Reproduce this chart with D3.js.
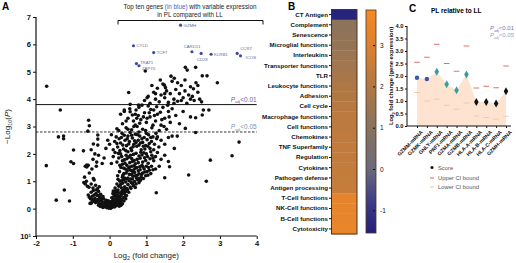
<!DOCTYPE html>
<html><head><meta charset="utf-8">
<script src="https://cdn.jsdelivr.net/npm/d3@7"></script>
<style>
body{margin:0;background:#fff}
svg text{font-family:"Liberation Sans",Arial,Helvetica,sans-serif}
</style>
</head><body>
<svg id="chart" width="516" height="263"></svg>
<script>
// ---------------- DATA ----------------
// Panel A: volcano plot, [log2 fold change, -log10 P]
const volcanoPoints = [
[-0.02,0.02],[0.01,0.05],[0.03,0.01],[-0.05,0.08],[0.06,0.04],[-0.08,0.12],[0.09,0.1],[-0.11,0.06],[0.12,0.15],[-0.14,0.18],
[0.15,0.08],[-0.03,0.14],[0.04,0.19],[-0.17,0.11],[0.18,0.21],[-0.2,0.24],[0.21,0.13],[-0.06,0.22],[0.07,0.27],[-0.23,0.16],
[0.24,0.3],[-0.26,0.29],[0.27,0.19],[-0.09,0.3],[0.1,0.33],[-0.29,0.2],[0.3,0.25],[-0.32,0.33],[0.02,0.1],[-0.01,0.17],
[0.13,0.06],[-0.12,0.25],[0.16,0.28],[-0.18,0.04],[0.19,0.34],[-0.22,0.31],[0.05,0.23],[-0.04,0.29],[0.08,0.16],[-0.15,0.14],
[0.22,0.2],[-0.35,0.27],[0.33,0.32],[-0.38,0.22],[-0.41,0.3],[-0.45,0.26],[-0.5,0.2],[-0.48,0.33],[0.26,0.09],[0.11,0.22],
[-0.07,0.03],[0.0,0.26],[-0.25,0.08],[0.14,0.31],[-0.1,0.2],[0.35,0.18],[0.28,0.35],[-0.3,0.12],[0.17,0.12],[0.0,0.12],
[-0.16,0.36],[0.31,0.12],[0.23,0.38],[-0.27,0.5],[0.17,0.46],[0.39,0.28],[-0.42,0.5],[0.44,0.36],
[-0.58,0.5],[-0.55,0.42],[-0.5,0.6],[-0.47,0.45],[-0.44,0.66],[-0.4,0.38],[-0.37,0.55],[-0.34,0.48],[-0.3,0.63],[-0.27,0.41],
[-0.24,0.52],[-0.21,0.37],[-0.18,0.44],[-0.36,0.68],[-0.52,0.36],[0.06,0.4],[0.09,0.55],[0.12,0.45],[0.15,0.62],[0.18,0.38],
[0.2,0.5],[0.23,0.68],[0.26,0.42],[0.29,0.58],[0.31,0.47],[0.34,0.65],[0.37,0.4],[0.4,0.55],[0.43,0.62],[0.46,0.48],
[0.49,0.69],[0.14,0.52],[0.22,0.59],[0.28,0.37],[0.33,0.53],[0.38,0.67],[0.1,0.64],[0.25,0.47],[0.42,0.44],[0.19,0.66],
[0.36,0.58],[0.52,0.6],
[-0.7,0.95],[-0.66,0.9],[-0.63,1.0],[-0.6,0.82],[-0.56,0.78],[-0.5,0.9],[-0.45,0.75],[-0.42,1.05],[-0.38,0.85],[-0.33,0.72],
[-0.28,0.8],[0.15,0.75],[0.2,0.9],[0.25,0.82],[0.28,1.0],[0.32,0.76],[0.35,0.93],[0.38,1.05],[0.41,0.8],[0.44,0.97],
[0.47,0.73],[0.5,0.88],[0.53,1.02],[0.56,0.79],[0.59,0.95],[0.62,1.08],[0.65,0.84],[0.68,0.99],[0.72,0.9],[0.76,1.06],
[0.8,0.95],[0.3,0.88],[0.4,0.71],[0.46,1.08],[0.58,0.74],[0.7,0.77],[0.84,1.04],[0.23,1.07],[0.62,0.92],
[-0.68,1.15],[-0.55,1.3],[-0.48,1.45],[-0.36,1.55],[-0.62,1.52],[-0.58,1.58],
[0.22,1.2],[0.27,1.35],[0.31,1.5],[0.35,1.15],[0.39,1.28],[0.43,1.45],[0.47,1.58],[0.5,1.12],[0.54,1.25],[0.57,1.4],
[0.61,1.55],[0.64,1.18],[0.68,1.32],[0.71,1.48],[0.75,1.22],[0.78,1.38],[0.82,1.53],[0.86,1.15],[0.9,1.3],[0.94,1.45],
[0.98,1.2],[1.02,1.35],[1.06,1.5],[1.12,1.28],[1.18,1.42],[0.45,1.3],[0.66,1.42],[0.73,1.12],[0.88,1.58],[0.55,1.52],
[0.38,1.48],[0.28,1.58],[0.92,1.1],[1.0,1.55],[0.6,1.25],[0.8,1.27],[1.25,1.45],[1.35,1.55],
[0.32,1.02],[0.36,1.22],[0.41,1.12],[0.48,1.38],[0.52,1.48],[0.58,1.08],[0.63,1.36],[0.67,1.56],[0.7,1.2],[0.74,1.5],
[0.79,1.1],[0.83,1.42],[0.87,1.25],[0.91,1.52],[0.96,1.34],[1.04,1.22],[1.08,1.4],[1.14,1.55],
[-0.45,1.8],[-0.4,2.0],[-0.35,1.7],[-0.3,1.95],[-0.2,1.65],[-0.15,1.85],
[0.05,1.65],[0.1,1.9],[0.15,2.05],[0.2,1.7],[0.25,1.85],[0.3,2.0],[0.35,1.62],[0.4,1.78],[0.45,1.95],[0.5,2.08],
[0.55,1.68],[0.6,1.83],[0.65,1.98],[0.7,1.64],[0.75,1.8],[0.8,1.92],[0.85,2.06],[0.9,1.7],[0.95,1.86],[1.0,2.0],
[1.05,1.66],[1.1,1.82],[1.15,1.95],[1.2,1.75],[1.25,1.9],[1.3,2.05],[1.4,1.8],[1.5,1.95],[1.6,1.72],[0.42,1.66],
[0.62,1.72],[0.78,1.68],[0.98,1.76],[1.12,2.08],[0.33,1.9],[0.52,1.88],[0.72,2.02],[0.88,1.96],
[0.35,1.75],[0.47,1.82],[0.57,1.95],[0.67,1.76],[0.83,1.84],[0.93,2.04],[1.03,1.9],[1.18,1.85],
[-0.1,2.2],[-0.05,2.5],[0.0,2.35],[0.05,2.7],[0.1,2.15],[0.14,2.45],[0.18,2.62],[0.22,2.25],[0.26,2.55],[0.3,2.4],
[0.34,2.75],[0.38,2.18],[0.42,2.5],[0.46,2.3],[0.5,2.65],[0.54,2.45],[0.58,2.2],[0.62,2.58],[0.66,2.35],[0.7,2.72],
[0.74,2.28],[0.78,2.5],[0.82,2.65],[0.86,2.15],[0.9,2.42],[0.94,2.6],[0.98,2.3],[1.02,2.52],[1.06,2.7],[1.1,2.2],
[1.14,2.45],[1.18,2.62],[1.22,2.35],[1.28,2.55],[1.34,2.25],[1.4,2.5],[1.5,2.35],[1.6,2.6],[0.2,2.38],[0.4,2.68],
[0.6,2.12],[0.8,2.32],[1.0,2.75],[0.48,2.55],[0.68,2.48],[0.88,2.55],[1.08,2.38],[0.28,2.12],[0.56,2.78],[0.76,2.7],
[0.96,2.18],[1.26,2.75],
[0.24,2.02],[0.44,2.12],[0.64,2.26],[0.84,2.4],[1.04,2.28],[1.2,2.15],[0.36,2.32],[0.52,2.36],[0.72,2.42],[0.92,2.28],
[1.12,2.6],[0.32,2.6],[0.6,2.68],[0.8,2.8],[1.3,2.62],
[0.25,2.85],[0.35,3.1],[0.4,3.55],[0.45,2.95],[0.5,3.3],[0.55,3.65],[0.6,2.88],[0.65,3.2],[0.7,3.45],[0.75,3.0],
[0.8,3.7],[0.85,3.25],[0.9,2.9],[0.95,3.5],[1.0,3.15],[1.05,3.75],[1.1,3.35],[1.15,2.95],[1.2,3.6],[1.25,3.2],
[1.3,3.45],[1.35,2.85],[1.4,3.05],[1.45,3.7],[1.5,3.3],[1.55,2.9],[1.6,3.55],[1.65,3.15],[1.7,3.65],[1.8,3.4],
[1.9,3.1],[2.0,3.55],[0.72,3.6],[0.98,2.85],[1.18,3.05],[1.38,3.52],[0.88,3.78],[1.58,3.78],[1.28,3.72],[0.62,3.42],
[1.12,3.62],[1.48,3.0],[0.3,3.45],[0.2,2.92],
[0.5,2.9],[0.66,3.0],[0.82,3.12],[1.02,3.3],[1.22,3.4],[0.45,3.2],[0.92,3.35],[1.42,3.25],[1.08,3.5],[0.78,3.4],[1.62,3.35],
[0.95,3.95],[1.05,4.1],[1.1,3.85],[1.2,4.25],[1.25,4.0],[1.3,4.4],[1.35,3.9],[1.4,4.15],[1.45,4.55],[1.5,4.05],
[1.55,4.3],[1.6,3.88],[1.65,4.2],[1.7,4.65],[1.75,4.0],[1.8,4.35],[1.85,3.92],[1.9,4.2],[1.95,4.5],[2.0,4.05],
[2.05,4.3],[2.1,3.85],[2.15,4.15],[2.2,4.45],[2.25,4.1],[2.3,3.95],[2.35,4.6],[2.4,4.25],[2.45,4.0],[2.5,3.9],
[1.15,4.5],[1.38,4.7],[2.28,4.38],[1.52,4.42],[1.02,4.05],
[1.75,3.85],[1.95,3.95],[2.2,4.0],[1.5,4.2],[1.85,4.6],[2.05,4.7],[2.4,4.5],[1.25,4.2],
[-1.71,4.47],[-1.34,3.6],[-0.57,3.23],[-0.55,3.03],[-0.59,2.83],[-1.39,2.62],[-1.25,2.65],[-1.25,2.55],[-0.32,2.69],[-0.32,2.54],
[-0.32,2.32],[-0.44,2.36],[-0.5,2.15],[-0.98,2.14],[-0.71,2.11],[0.52,4.24],[0.56,3.81],[0.79,3.78],[0.4,3.6],[0.56,3.54],
[0.97,5.03],[2.06,5.16],[2.34,5.16],[2.11,5.06],[1.67,4.84],[1.76,4.76],[1.49,4.51],[2.65,4.85],[2.52,4.85],[2.93,4.6],
[2.34,3.32],[2.52,3.42],[2.7,3.6],[2.55,3.6],[2.2,3.35],[2.06,2.93],[1.7,2.65],[1.84,2.65],[2.34,2.78],[1.76,2.2],
[3.52,2.43],[3.33,1.93],[2.74,1.77],[2.15,1.23],[2.63,1.0],[1.27,0.58],[1.5,1.13],[1.63,1.53],[-1.72,1.57],[-1.45,0.31],
[-1.23,0.68],[-1.09,0.28],[-1.05,1.71],[-0.98,1.65],[-0.66,1.55],[-0.62,1.59],[-0.53,0.19],[-0.44,1.1],[0.7,3.05],[0.74,3.3]
];
const topGenes = ["GZMH","CYLD","TCF7","TRAT1","ZAP70","CARD11","CD28","KLRB1","CCR7","ICOS"];
const topGeneFC = [1.93,0.65,1.2,0.73,0.8,2.24,2.49,2.76,3.47,3.56];
const topGeneNegLogP = [6.7,5.95,5.7,5.3,5.22,5.73,5.67,5.64,5.67,5.58];
const volcanoXTicks = [-2,-1,0,1,2,3,4];
const volcanoYTicks = [-1,0,1,2,3,4,5,6,7];
const volcanoYTickLabels = ["10\u00B9","0","1","2","3","4","5","6","7"];
const thresholdP01 = 3.8;
const thresholdP05 = 2.8;

// Panel B: pathway scores heatmap
const pathways = ["CT Antigen","Complement","Senescence","Microglial functions","Interleukins",
  "Transporter functions","TLR","Leukocyte functions","Adhesion","Cell cycle","Macrophage functions",
  "Cell functions","Chemokines","TNF Superfamily","Regulation","Cytokines","Pathogen defense",
  "Antigen processing","T-Cell functions","NK-Cell functions","B-Cell functions","Cytotoxicity"];
const pathwayScores = [-1.4,1.1,1.2,1.35,1.5,1.65,1.8,1.95,2.05,2.15,2.25,2.3,2.35,2.4,2.4,2.45,2.45,2.5,3.3,3.35,3.4,3.45];
const colorbarTicks = [-1,0,1,2,3];
const colorbarDomain = [-1.55,3.85];

// Panel C: PL relative to LL
const genesC = ["GZMM-mRNA","GZMK-mRNA","GNLY-mRNA","PRF1-mRNA","GZMA-mRNA","GZMB-mRNA","HLA-A-mRNA","HLA-B-mRNA","HLA-C-mRNA","GZMH-mRNA"];
const scoreC = [1.93,1.88,2.17,1.67,1.43,2.06,0.96,0.96,0.9,1.39];
const upperC = [2.55,2.75,3.27,2.5,2.19,3.2,1.52,1.59,1.53,2.4];
const lowerC = [1.34,1.0,1.07,0.83,0.67,0.92,0.4,0.34,0.28,0.39];
const signifC = ["p01","p01","p05","p05","p05","p05","ns","ns","ns","ns"];
const yTicksC = [0,0.5,1,1.5,2,2.5,3,3.5,4];

// ---------------- DRAW ----------------
const svg = d3.select("#chart");
const BOLD = 700;

function styleAxis(g, fs){
  g.selectAll("path.domain").attr("stroke","#111").attr("stroke-width",1.2);
  g.selectAll(".tick line").attr("stroke","#111").attr("stroke-width",1);
  g.selectAll(".tick text").attr("fill","#111").attr("font-size",fs).attr("font-weight",BOLD)
    .attr("font-family",'"Liberation Sans",Arial,sans-serif');
}

// ===== Panel A =====
const xA = d3.scaleLinear().domain([-2,4]).range([36,256.7]);
const yA = d3.scaleLinear().domain([-1,7]).range([236,17]);
const gA = svg.append("g");

svg.append("text").attr("x",2).attr("y",10).attr("font-size",10).attr("font-weight",BOLD).text("A");

gA.append("line").attr("x1",xA(-2)).attr("x2",xA(4)).attr("y1",yA(thresholdP01)).attr("y2",yA(thresholdP01))
  .attr("stroke","#111").attr("stroke-width",1);
gA.append("line").attr("x1",xA(-2)).attr("x2",xA(4)).attr("y1",yA(thresholdP05)).attr("y2",yA(thresholdP05))
  .attr("stroke","#333").attr("stroke-width",1).attr("stroke-dasharray","2.5,1.5");

function padjLabel(g, x, y, txt, color, fs){
  const t = g.append("text").attr("x",x).attr("y",y).attr("text-anchor","end").attr("font-size",fs).attr("fill",color);
  t.append("tspan").attr("font-style","italic").text("P");
  t.append("tspan").attr("font-size",fs*0.6).attr("dy",fs*0.25).text("adj");
  t.append("tspan").attr("dy",-fs*0.25).text(txt);
}
padjLabel(gA, xA(4), yA(thresholdP01)-3, "<0.01", "#6b62ad", 6.5);
padjLabel(gA, xA(4), yA(thresholdP05)-3, "<0.05", "#7b93b3", 6.5);

gA.append("g").selectAll("circle").data(volcanoPoints).join("circle")
  .attr("cx",d=>xA(d[0])).attr("cy",d=>yA(d[1])).attr("r",1.8).attr("fill","#111");

const labelPos = {GZMH:[3,1.5,"start"],CYLD:[3,1.5,"start"],TCF7:[3,1.5,"start"],TRAT1:[3.5,0.5,"start"],
  ZAP70:[3,3.8,"start"],CARD11:[0,-4,"middle"],CD28:[1,8,"middle"],KLRB1:[3,1.5,"start"],CCR7:[3,-3.5,"start"],ICOS:[5,3.5,"start"]};
const tg = gA.append("g");
topGenes.forEach((g,i)=>{
  const cx = xA(topGeneFC[i]), cy = yA(topGeneNegLogP[i]);
  tg.append("circle").attr("cx",cx).attr("cy",cy).attr("r",1.6).attr("fill","#3d4aa0");
  const p = labelPos[g];
  tg.append("text").attr("x",cx+p[0]).attr("y",cy+p[1]).attr("text-anchor",p[2])
    .attr("font-size",4.3).attr("fill","#5f6a9c").text(g);
});

const axXA = gA.append("g").attr("transform",`translate(0,${yA(-1)})`)
  .call(d3.axisBottom(xA).tickValues(volcanoXTicks).tickSize(3).tickPadding(2).tickFormat(d=>String(d)));
styleAxis(axXA, 7.5);
const axYA = gA.append("g").attr("transform",`translate(${xA(-2)},0)`)
  .call(d3.axisLeft(yA).tickValues(volcanoYTicks).tickSize(3).tickPadding(2).tickFormat((d,i)=>volcanoYTickLabels[i]));
styleAxis(axYA, 7.5);
axYA.selectAll("path.domain").attr("d",`M-0,${yA(-1)}V${yA(7)}`);
axXA.selectAll("path.domain").attr("d",`M${xA(-2)},0H${xA(4)}`);

const xt = gA.append("text").attr("x",xA(1)).attr("y",258).attr("text-anchor","middle").attr("font-size",8).attr("fill","#222");
xt.append("tspan").text("Log");
xt.append("tspan").attr("font-size",5.5).attr("dy",2).text("2");
xt.append("tspan").attr("dy",-2).text(" (fold change)");
const yt = gA.append("text").attr("transform",`translate(10,${yA(3)}) rotate(-90)`).attr("text-anchor","middle").attr("font-size",8).attr("fill","#222");
yt.append("tspan").text("\u2212Log");
yt.append("tspan").attr("font-size",5.5).attr("dy",2).text("10");
yt.append("tspan").attr("dy",-2).text("(");
yt.append("tspan").attr("font-style","italic").text("P");
yt.append("tspan").text(")");

gA.append("path").attr("d","M118,24.5V20.5H263V24.5").attr("fill","none").attr("stroke","#111").attr("stroke-width",1);
const h1 = gA.append("text").attr("x",190).attr("y",9).attr("text-anchor","middle").attr("font-size",6.3).attr("fill","#222");
h1.append("tspan").text("Top ten genes ");
h1.append("tspan").attr("fill","#4a5bc4").text("(in blue)");
h1.append("tspan").text(" with variable expression");
gA.append("text").attr("x",190).attr("y",16.5).attr("text-anchor","middle").attr("font-size",6.3).attr("fill","#222")
  .text("in PL compared with LL");

// ===== Panel B =====
svg.append("text").attr("x",288).attr("y",10).attr("font-size",10).attr("font-weight",BOLD).text("B");
const yB = d3.scaleBand().domain(pathways).range([9.5,234]);
const colB = d3.scaleLinear().domain([-1.55,-0.8,0,1,2,3,3.85])
  .range(["#221f78","#3d3b86","#6c6a7c","#87735f","#b07745","#dc8130","#f48a24"]);
const gB = svg.append("g");
gB.append("g").selectAll("rect").data(pathways).join("rect")
  .attr("x",331.5).attr("width",25.5).attr("y",d=>yB(d)).attr("height",yB.bandwidth()+0.3)
  .attr("fill",(d,i)=>colB(pathwayScores[i]));
gB.append("rect").attr("x",331.5).attr("y",9.5).attr("width",25.5).attr("height",224.5)
  .attr("fill","none").attr("stroke","#4b3522").attr("stroke-width",1);
const axB = gB.append("g").attr("transform","translate(331.5,0)").call(d3.axisLeft(yB).tickSize(2.5).tickPadding(1));
styleAxis(axB, 6.2);
axB.select("path.domain").remove();

const cbScale = d3.scaleLinear().domain(colorbarDomain).range([233,10]);
const defs = svg.append("defs");
const grad = defs.append("linearGradient").attr("id","cbg").attr("x1",0).attr("x2",0).attr("y1",1).attr("y2",0);
d3.range(0,1.0001,0.05).forEach(t=>{
  const v = colorbarDomain[0] + t*(colorbarDomain[1]-colorbarDomain[0]);
  grad.append("stop").attr("offset",t).attr("stop-color",colB(v));
});
gB.append("rect").attr("x",366).attr("y",10).attr("width",10).attr("height",223)
  .attr("fill","url(#cbg)").attr("stroke","#4b3522").attr("stroke-width",0.8);
const axCB = gB.append("g").attr("transform","translate(376,0)")
  .call(d3.axisRight(cbScale).tickValues(colorbarTicks).tickSize(2).tickPadding(2).tickFormat(d=>String(d)));
styleAxis(axCB, 6.5);
axCB.select("path.domain").remove();
axCB.selectAll(".tick text").attr("font-weight",400);
axCB.selectAll(".tick line").attr("x1",-3).attr("x2",-1);

// ===== Panel C =====
svg.append("text").attr("x",409).attr("y",12).attr("font-size",10).attr("font-weight",BOLD).text("C");
const xC = d3.scalePoint().domain(genesC).range([417,506]);
const yC = d3.scaleLinear().domain([0,4]).range([126,26]);
const gC = svg.append("g");
gC.append("text").attr("x",431).attr("y",13).attr("font-size",6.5).attr("font-weight",BOLD).text("PL relative to LL");

const areaC = d3.area().x((d,i)=>xC(genesC[i])).y0(yC(0)).y1(d=>yC(d));
gC.append("path").datum(scoreC).attr("d",areaC).attr("fill","#fde3d0");

gC.append("g").selectAll("line").data(upperC).join("line")
  .attr("x1",(d,i)=>xC(genesC[i])-2.8).attr("x2",(d,i)=>xC(genesC[i])+2.8)
  .attr("y1",d=>yC(d)).attr("y2",d=>yC(d)).attr("stroke","#dc5d5d").attr("stroke-width",0.9);
gC.append("g").selectAll("line").data(lowerC).join("line")
  .attr("x1",(d,i)=>xC(genesC[i])-2.8).attr("x2",(d,i)=>xC(genesC[i])+2.8)
  .attr("y1",d=>yC(d)).attr("y2",d=>yC(d)).attr("stroke","#f2c69e").attr("stroke-width",0.9);

const sigColor = {p01:"#3b5aa6", p05:"#3a9c9f", ns:"#111"};
gC.append("g").selectAll("path").data(scoreC).join("path")
  .attr("transform",(d,i)=>`translate(${xC(genesC[i])},${yC(d)})`)
  .attr("d",(d,i)=>d3.symbol().type(signifC[i]==="p01"?d3.symbolCircle:d3.symbolDiamond).size(signifC[i]==="p01"?16:18)())
  .attr("fill",(d,i)=>sigColor[signifC[i]]);

const axYC = gC.append("g").attr("transform","translate(407,0)")
  .call(d3.axisLeft(yC).tickValues(yTicksC).tickSize(2).tickPadding(1.5).tickFormat(d3.format(".1f")));
styleAxis(axYC, 5.8);
axYC.select("path.domain").attr("d",`M0,${yC(0)}V${yC(4)}`).attr("stroke-width",1);
const axXC = gC.append("g").attr("transform",`translate(0,${yC(0)})`)
  .call(d3.axisBottom(xC).tickSize(2).tickPadding(2));
styleAxis(axXC, 5.2);
axXC.select("path.domain").attr("d","M407,0H511").attr("stroke-width",1);
axXC.selectAll(".tick text").attr("text-anchor","end").attr("transform","translate(0,1) rotate(-45)")
  .attr("dx",0).attr("dy",4);

const ylC = gC.append("text").attr("transform",`translate(393,${yC(2)}) rotate(-90)`).attr("text-anchor","middle")
  .attr("font-size",5.8).attr("font-weight",BOLD).attr("fill","#111");
ylC.append("tspan").text("Log");
ylC.append("tspan").attr("font-size",4).attr("dy",1.5).text("2");
ylC.append("tspan").attr("dy",-1.5).text(" fold change (gene expression)");

padjLabel(gC, 514, 30, "<0.01", "#7a73b6", 6);
padjLabel(gC, 514, 37, "<0.05", "#8ea4c4", 6);

const lg = gC.append("g");
lg.append("circle").attr("cx",432).attr("cy",167.5).attr("r",1.5).attr("fill","#111");
lg.append("text").attr("x",438).attr("y",169.5).attr("font-size",5.8).attr("fill","#555").text("Score");
lg.append("line").attr("x1",430).attr("x2",434).attr("y1",178).attr("y2",178).attr("stroke","#dc5d5d");
lg.append("text").attr("x",438).attr("y",180).attr("font-size",5.8).attr("fill","#555").text("Upper CI bound");
lg.append("line").attr("x1",430).attr("x2",434).attr("y1",187).attr("y2",187).attr("stroke","#f2c69e");
lg.append("text").attr("x",438).attr("y",189).attr("font-size",5.8).attr("fill","#555").text("Lower CI bound");
</script>
</body></html>
